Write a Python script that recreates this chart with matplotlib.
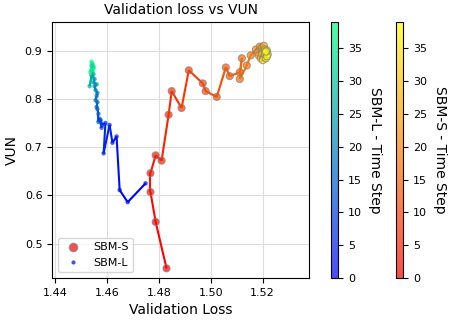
import matplotlib
matplotlib.use("Agg")
import matplotlib.pyplot as plt
import numpy as np
from matplotlib.collections import LineCollection
from matplotlib.lines import Line2D

# SBM-S trajectory (time steps 0..39)
sbm_s_loss = [1.4829, 1.4787, 1.4767, 1.4767, 1.4787, 1.4810, 1.4837, 1.4849, 1.4887, 1.4915,
              1.4969, 1.4980, 1.5023, 1.5058, 1.5073, 1.5112, 1.5120, 1.5112, 1.5139, 1.5154,
              1.5174, 1.5189, 1.5181, 1.5197, 1.5185, 1.5205, 1.5201, 1.5193, 1.5209, 1.5197,
              1.5213, 1.5205, 1.5217, 1.5209, 1.5201, 1.5213, 1.5220, 1.5209, 1.5217, 1.5213]
sbm_s_vun = [0.449, 0.545, 0.607, 0.646, 0.683, 0.672, 0.767, 0.816, 0.781, 0.859,
             0.832, 0.816, 0.804, 0.865, 0.847, 0.855, 0.884, 0.841, 0.869, 0.890,
             0.902, 0.908, 0.896, 0.906, 0.890, 0.910, 0.898, 0.884, 0.902, 0.892,
             0.894, 0.886, 0.900, 0.890, 0.880, 0.884, 0.892, 0.896, 0.888, 0.898]

# SBM-L trajectory (time steps 0..39)
sbm_l_loss = [1.4748, 1.4679, 1.4648, 1.4636, 1.4620, 1.4609, 1.4586, 1.4593, 1.4582, 1.4574,
              1.4578, 1.4570, 1.4566, 1.4566, 1.4562, 1.4559, 1.4562, 1.4555, 1.4559, 1.4562,
              1.4555, 1.4551, 1.4559, 1.4547, 1.4551, 1.4543, 1.4547, 1.4539, 1.4532, 1.4543,
              1.4539, 1.4543, 1.4547, 1.4539, 1.4543, 1.4543, 1.4547, 1.4535, 1.4543, 1.4539]
sbm_l_vun = [0.625, 0.586, 0.611, 0.722, 0.709, 0.746, 0.687, 0.750, 0.746, 0.756,
             0.740, 0.759, 0.752, 0.769, 0.779, 0.783, 0.793, 0.797, 0.806, 0.812,
             0.818, 0.826, 0.830, 0.834, 0.841, 0.845, 0.851, 0.849, 0.826, 0.855,
             0.859, 0.863, 0.867, 0.869, 0.865, 0.873, 0.863, 0.855, 0.859, 0.877]

steps = np.arange(len(sbm_s_loss))


def trajectory(ax, x, y, cmap, **scatter_kw):
    pts = np.column_stack([x, y]).reshape(-1, 1, 2)
    segs = np.concatenate([pts[:-1], pts[1:]], axis=1)
    lc = LineCollection(segs, cmap=cmap, linewidth=1.5, zorder=2)
    lc.set_array(steps[:-1])
    lc.set_clim(0, steps[-1])
    ax.add_collection(lc)
    return ax.scatter(x, y, c=steps, cmap=cmap, vmin=0, vmax=steps[-1], zorder=3, **scatter_kw)


fig = plt.figure(figsize=(4.57, 3.24), dpi=100)
ax = fig.add_axes([0.114, 0.142, 0.562, 0.79])

sc_s = trajectory(ax, sbm_s_loss, sbm_s_vun, "autumn", s=26, alpha=0.7,
                  edgecolors="grey", linewidths=0.8)
sc_l = trajectory(ax, sbm_l_loss, sbm_l_vun, "winter", s=10, alpha=0.7, edgecolors="none")

ax.set_xlim(1.4387, 1.5379)
ax.set_ylim(0.429, 0.959)
ax.set_xticks([1.44, 1.46, 1.48, 1.50, 1.52])
ax.set_yticks([0.5, 0.6, 0.7, 0.8, 0.9])
ax.tick_params(labelsize=8)
ax.grid(color="#dddddd", linewidth=0.8)
ax.set_axisbelow(True)
ax.set_xlabel("Validation Loss", fontsize=10)
ax.set_ylabel("VUN", fontsize=10)
ax.set_title("Validation loss vs VUN", fontsize=10)

handles = [
    Line2D([], [], linestyle="none", marker="o", markersize=6, color=plt.get_cmap("autumn")(0),
           markeredgecolor="grey", alpha=0.7, label="SBM-S"),
    Line2D([], [], linestyle="none", marker="o", markersize=3, color=plt.get_cmap("winter")(0),
           markeredgecolor="none", alpha=0.7, label="SBM-L"),
]
ax.legend(handles=handles, loc="lower left", fontsize=8)

cax_l = fig.add_axes([0.7243, 0.142, 0.016, 0.79])
cb_l = fig.colorbar(sc_l, cax=cax_l)
cb_l.set_label("SBM-L - Time Step", rotation=270, labelpad=14, fontsize=10)
cb_l.ax.tick_params(labelsize=8)

cax_s = fig.add_axes([0.8665, 0.142, 0.016, 0.79])
cb_s = fig.colorbar(sc_s, cax=cax_s)
cb_s.set_label("SBM-S - Time Step", rotation=270, labelpad=14, fontsize=10)
cb_s.ax.tick_params(labelsize=8)

fig.savefig("out.png", dpi=100)
